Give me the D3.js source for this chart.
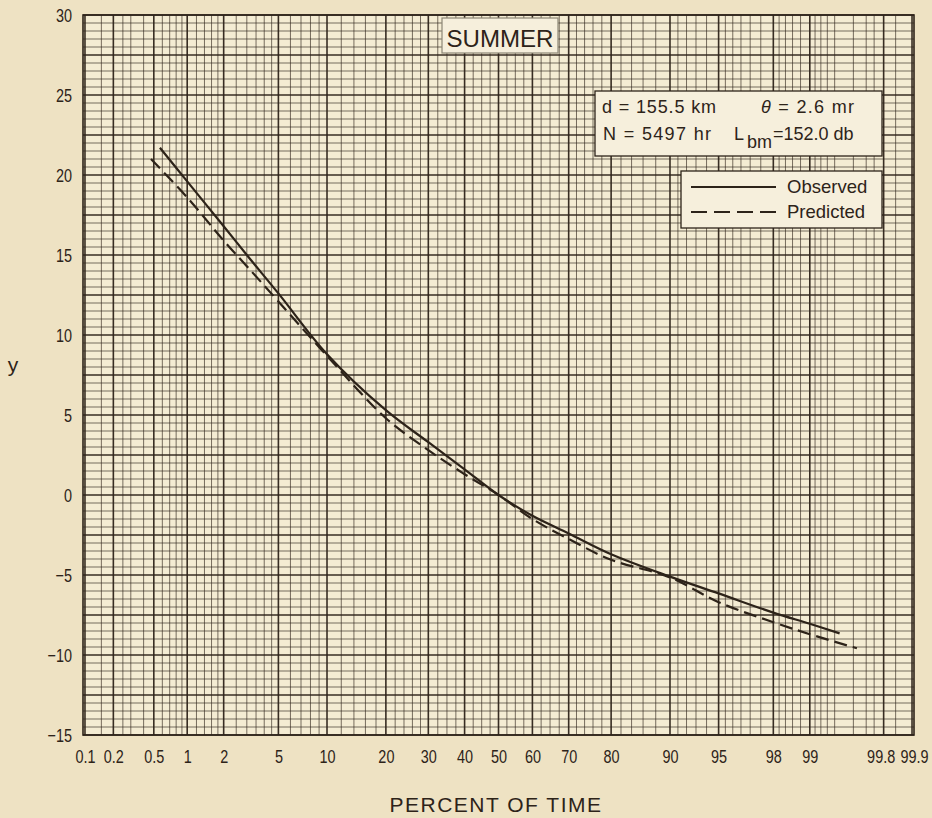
<!DOCTYPE html>
<html><head><meta charset="utf-8">
<script src="https://cdn.jsdelivr.net/npm/d3@7"></script>
<style>
html,body{margin:0;padding:0;background:#eee2c3;}
svg{display:block;}
</style></head><body>
<svg id="c" width="932" height="818"></svg>
<script>
// ---------- data ----------
const xTickValues = [0.1,0.2,0.5,1,2,5,10,20,30,40,50,60,70,80,90,95,98,99,99.8,99.9];
const xTickLabels = ["0.1","0.2","0.5","1","2","5","10","20","30","40","50","60","70","80","90","95","98","99","99.8","99.9"];
const yTickValues = [-15,-10,-5,0,5,10,15,20,25,30];
const gridLowPercents = [0.15,0.25,0.3,0.4,0.6,0.7,0.8,0.9,1.2,1.4,1.6,1.8,2.5,3,3.5,4,4.5,6,7,8,9,12,14,16,18,22,24,26,28,32.5,35,37.5,42.5,45,47.5];
const observedPercent = [0.57,1,2,3,5,10,20,30,40,50,60,70,80,90,95,98,99,99.46];
const observedValue   = [21.7,19.6,16.8,15.0,12.6,8.8,5.3,3.3,1.6,0,-1.3,-2.4,-3.7,-5.1,-6.15,-7.35,-8.05,-8.65];
const predictedPercent = [0.47,1,2,3,5,10,20,30,40,50,60,70,80,90,95,98,99,99.63];
const predictedValue   = [21.0,18.6,15.9,14.3,12.1,8.7,4.8,2.8,1.3,0,-1.5,-2.75,-4.05,-5.15,-6.7,-7.95,-8.7,-9.58];
const legendLabels = ["Observed","Predicted"];
const titleText = "SUMMER";
const xTitle = "PERCENT OF TIME";
const yTitle = "y";

// ---------- helpers ----------
function probit(p){ // Acklam inverse normal
  const a=[-39.69683028665376,220.9460984245205,-275.9285104469687,138.3577518672690,-30.66479806614716,2.506628277459239];
  const b=[-54.47609879822406,161.5858368580409,-155.6989798598866,66.80131188771972,-13.28068155288572];
  const c=[-0.007784894002430293,-0.3223964580411365,-2.400758277161838,-2.549732539343734,4.374664141464968,2.938163982698783];
  const d=[0.007784695709041462,0.3224671290700398,2.445134137142996,3.754408661907416];
  const pl=0.02425, ph=1-pl; let q,r;
  if(p<pl){q=Math.sqrt(-2*Math.log(p));return (((((c[0]*q+c[1])*q+c[2])*q+c[3])*q+c[4])*q+c[5])/((((d[0]*q+d[1])*q+d[2])*q+d[3])*q+1);}
  if(p<=ph){q=p-0.5;r=q*q;return (((((a[0]*r+a[1])*r+a[2])*r+a[3])*r+a[4])*r+a[5])*q/(((((b[0]*r+b[1])*r+b[2])*r+b[3])*r+b[4])*r+1);}
  q=Math.sqrt(-2*Math.log(1-p));return -(((((c[0]*q+c[1])*q+c[2])*q+c[3])*q+c[4])*q+c[5])/((((d[0]*q+d[1])*q+d[2])*q+d[3])*q+1);
}
const L=83,R=914,T=15,B=735;
const zMax=3.105;
const x = d3.scaleLinear().domain([-zMax,zMax]).range([L,R]);
const y = d3.scaleLinear().domain([-15,30]).range([B,T]);
const px = p => x(probit(p/100));

const ink="#2d2319";
const svg=d3.select("#c");
const sans='"Liberation Sans","DejaVu Sans",sans-serif';
const squeeze=0.76;

// plot background
svg.append("rect").attr("x",L).attr("y",T).attr("width",R-L).attr("height",B-T).attr("fill","#f4ecd3");

const grid=svg.append("g");
const isMajorH = d => Math.abs(d/2.5-Math.round(d/2.5))<1e-6;
const hMinor=d3.range(-15,30.01,0.5);
grid.selectAll("line.hm").data(hMinor).join("line")
  .attr("x1",L).attr("x2",R).attr("y1",d=>y(d)).attr("y2",d=>y(d))
  .attr("stroke",ink)
  .attr("stroke-width",d=>isMajorH(d)?1.6:0.8)
  .attr("stroke-opacity",d=>isMajorH(d)?0.95:0.8);
const vMinor=gridLowPercents.concat(gridLowPercents.map(p=>+(100-p).toFixed(3)));
grid.selectAll("line.vm").data(vMinor).join("line")
  .attr("x1",d=>px(d)).attr("x2",d=>px(d)).attr("y1",T).attr("y2",B)
  .attr("stroke",ink).attr("stroke-width",0.8).attr("stroke-opacity",0.8);
grid.selectAll("line.vM").data(xTickValues).join("line")
  .attr("x1",d=>px(d)).attr("x2",d=>px(d)).attr("y1",T).attr("y2",B)
  .attr("stroke",ink).attr("stroke-width",1.6).attr("stroke-opacity",0.95);
svg.append("rect").attr("x",L).attr("y",T).attr("width",R-L).attr("height",B-T)
  .attr("fill","none").attr("stroke",ink).attr("stroke-width",1.6);

// axes
const nudge = {"99.8":-3,"99.9":2};
const xAxis=d3.axisBottom(x).tickValues(xTickValues.map(p=>probit(p/100)))
  .tickFormat((d,i)=>xTickLabels[i]).tickSize(0).tickPadding(15);
const gx=svg.append("g").attr("transform",`translate(0,${B})`).call(xAxis);
gx.select(".domain").remove();
gx.selectAll("text").attr("font-family",sans).attr("font-size",19).attr("fill",ink)
  .attr("x",function(){return (nudge[this.textContent]||0)/squeeze;})
  .attr("transform",`scale(${squeeze},1)`);

const yAxis=d3.axisLeft(y).tickValues(yTickValues).tickSize(0).tickPadding(11);
const gy=svg.append("g").attr("transform",`translate(${L},0)`).call(yAxis);
gy.select(".domain").remove();
gy.selectAll("text").attr("font-family",sans).attr("font-size",19).attr("fill",ink)
  .attr("x",-11/squeeze).attr("transform",`scale(${squeeze},1)`);

// titles
svg.append("text").attr("x",496).attr("y",812).attr("text-anchor","middle")
  .attr("font-family",sans).attr("font-size",21).attr("letter-spacing",1.5).attr("fill",ink).text(xTitle);
svg.append("text").attr("x",13).attr("y",372).attr("text-anchor","middle")
  .attr("font-family",sans).attr("font-size",21).attr("fill",ink).text(yTitle);

// curves
const line=d3.line().x(d=>px(d[0])).y(d=>y(d[1])).curve(d3.curveCatmullRom.alpha(0.5));
svg.append("path").datum(observedPercent.map((p,i)=>[p,observedValue[i]]))
  .attr("d",line).attr("fill","none").attr("stroke",ink).attr("stroke-width",2.2);
svg.append("path").datum(predictedPercent.map((p,i)=>[p,predictedValue[i]]))
  .attr("d",line).attr("fill","none").attr("stroke",ink).attr("stroke-width",2.2).attr("stroke-dasharray","13,6");

// SUMMER box
svg.append("rect").attr("x",442).attr("y",18).attr("width",116).attr("height",35)
  .attr("fill","#f6efdc").attr("stroke","#8d8676").attr("stroke-width",1.2);
svg.append("text").attr("x",500).attr("y",46.5).attr("text-anchor","middle")
  .attr("font-family",sans).attr("font-size",23).attr("fill",ink)
  .attr("textLength",107).attr("lengthAdjust","spacingAndGlyphs").text(titleText);

// parameter box
svg.append("rect").attr("x",595).attr("y",91).attr("width",287).attr("height",65)
  .attr("fill","#f6efdc").attr("stroke",ink).attr("stroke-width",1.3);
const pb=svg.append("g").attr("font-family",sans).attr("font-size",18).attr("fill",ink);
pb.append("text").attr("x",602).attr("y",113).attr("textLength",114).attr("lengthAdjust","spacing").text("d = 155.5 km");
const th=pb.append("text").attr("x",761).attr("y",113).attr("textLength",93).attr("lengthAdjust","spacing");
th.append("tspan").attr("font-style","italic").text("θ");
th.append("tspan").text(" = 2.6 mr");
pb.append("text").attr("x",603).attr("y",140).attr("textLength",108).attr("lengthAdjust","spacing").text("N = 5497 hr");
const lb=pb.append("text").attr("x",734).attr("y",140);
lb.append("tspan").text("L");
lb.append("tspan").attr("dy",8).attr("dx",3).text("bm");
lb.append("tspan").attr("dy",-8).attr("dx",1).text("=152.0 db");

// legend
svg.append("rect").attr("x",681).attr("y",171).attr("width",201).attr("height",57)
  .attr("fill","#f6efdc").attr("stroke",ink).attr("stroke-width",1.3);
const lg=svg.append("g");
lg.selectAll("line").data(legendLabels).join("line")
  .attr("x1",691).attr("x2",776).attr("y1",(d,i)=>187+i*25).attr("y2",(d,i)=>187+i*25)
  .attr("stroke",ink).attr("stroke-width",2)
  .attr("stroke-dasharray",(d,i)=>i?"16,7":null);
lg.selectAll("text").data(legendLabels).join("text")
  .attr("x",787).attr("y",(d,i)=>193+i*25)
  .attr("font-family",sans).attr("font-size",18.5).attr("fill",ink).text(d=>d);
</script>
</body></html>
